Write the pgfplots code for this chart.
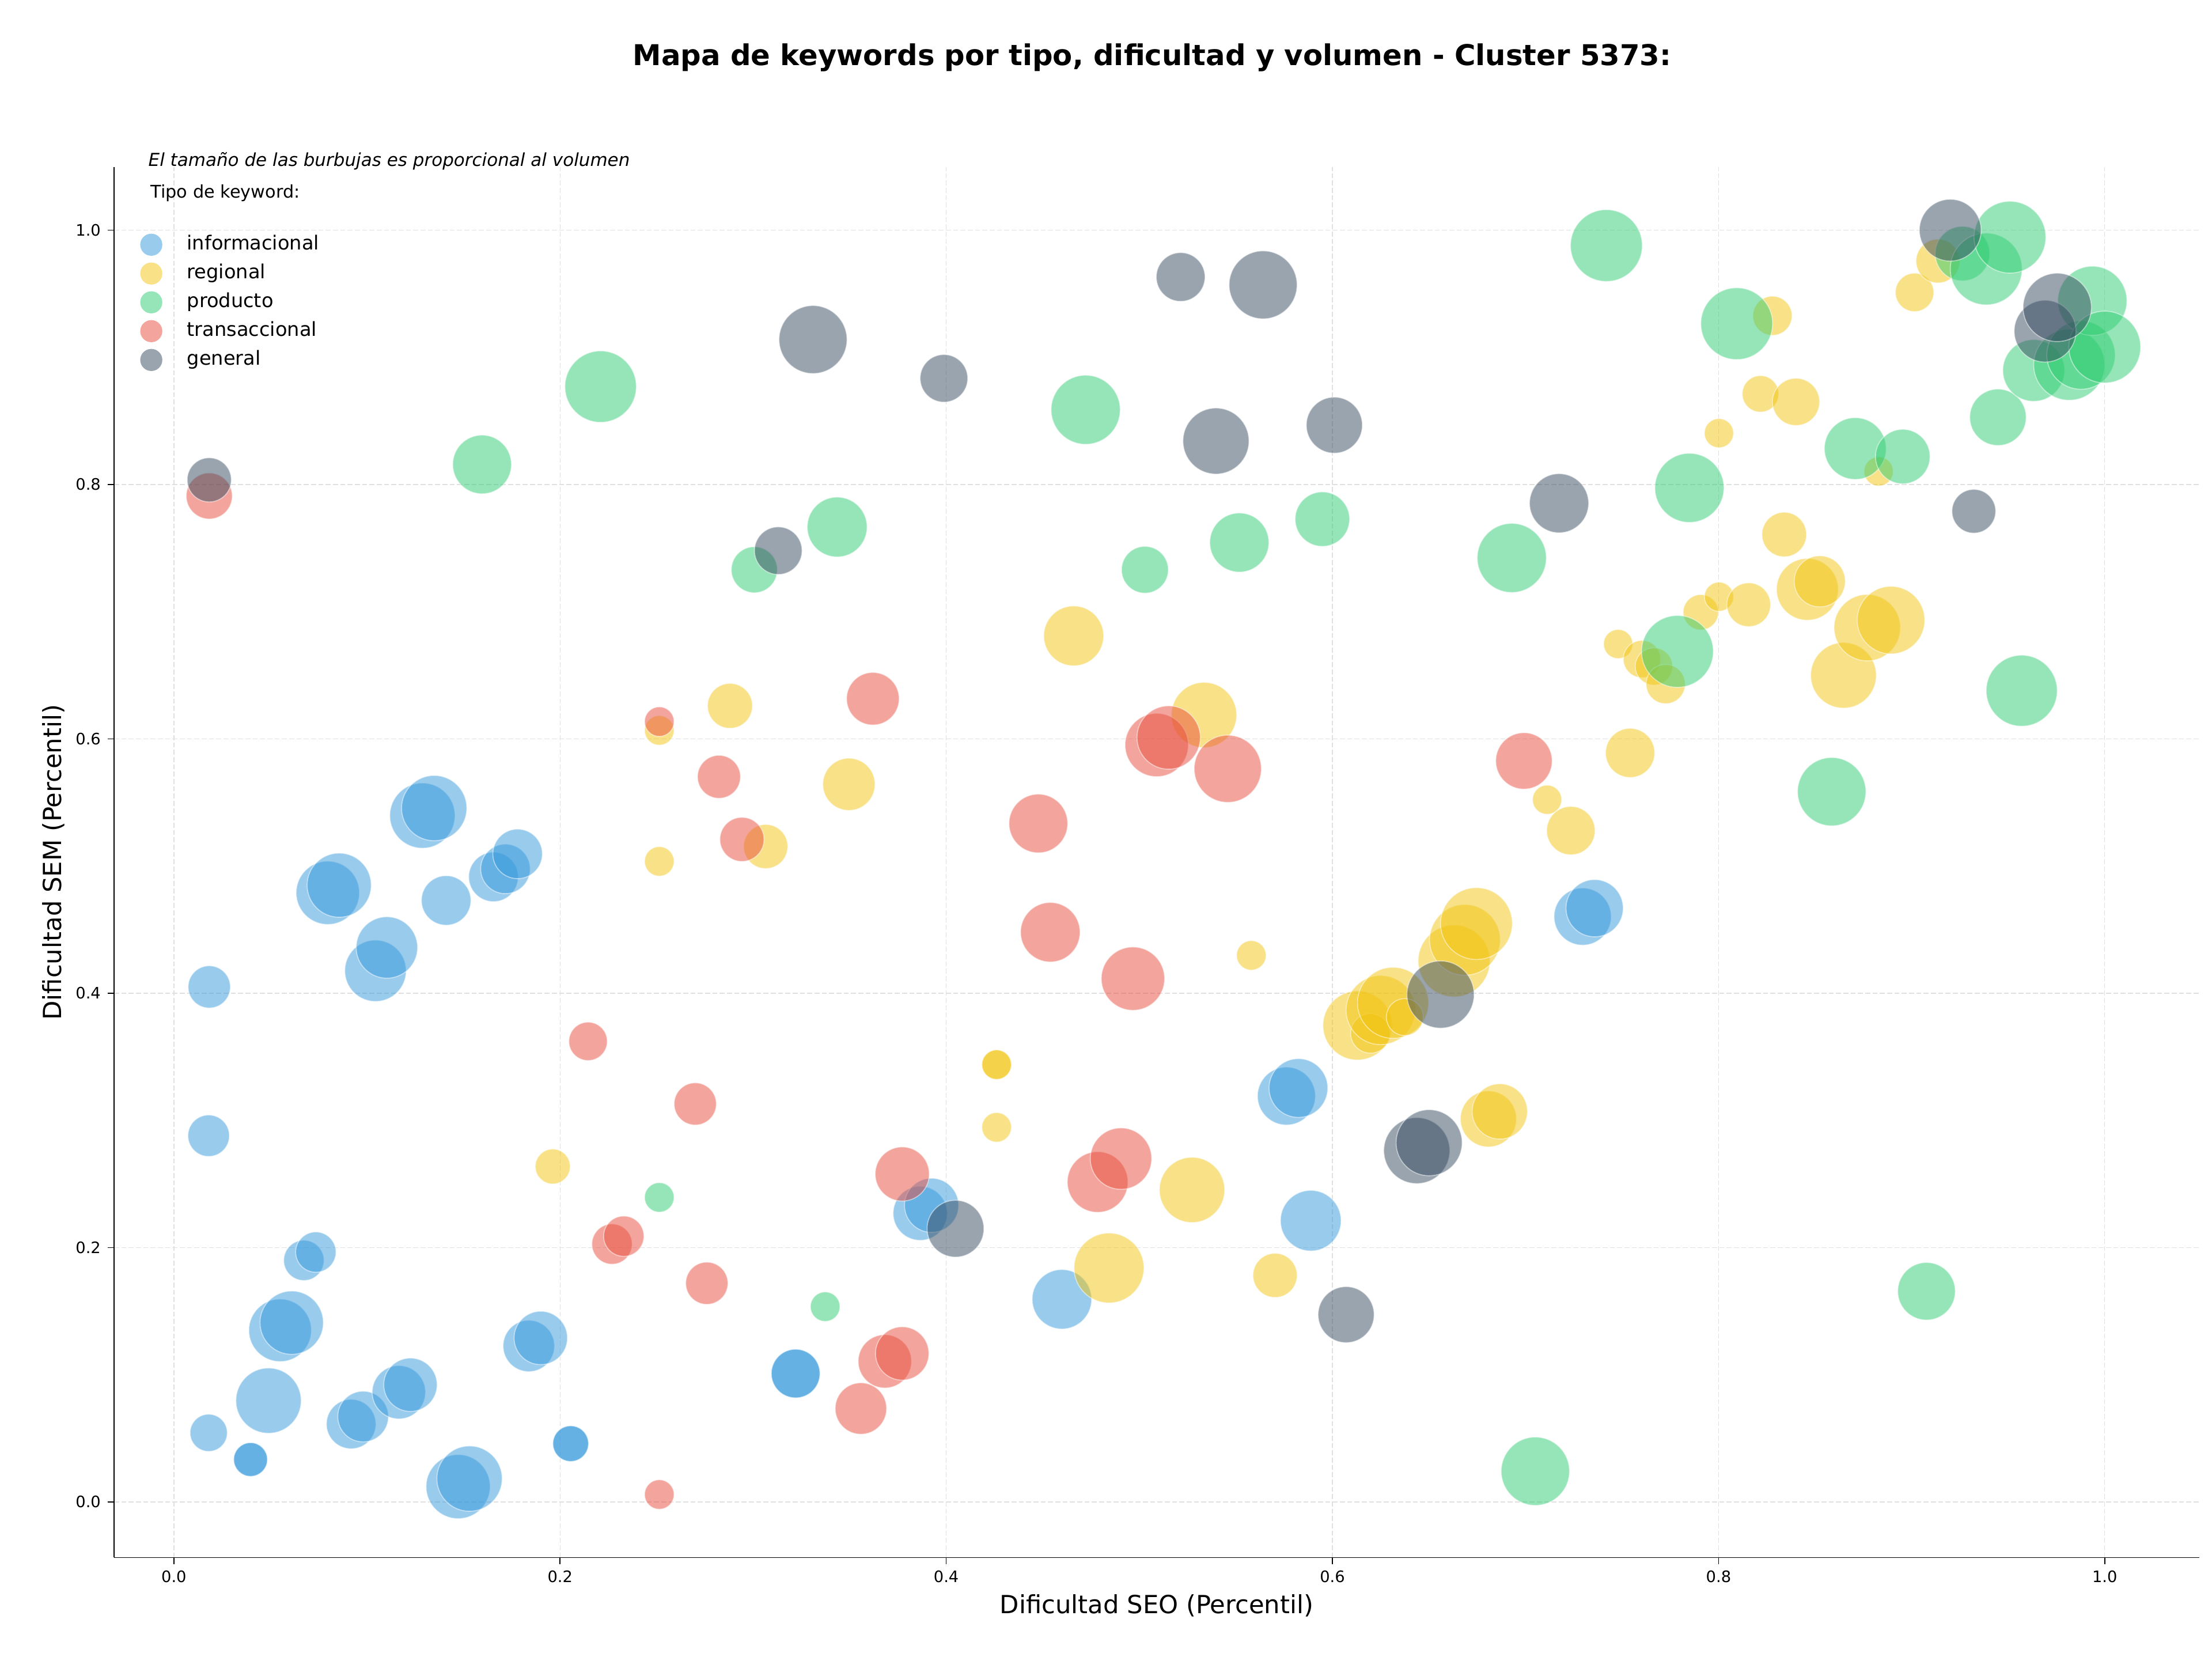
\documentclass[border=0pt]{standalone}
\usepackage{fontspec}
\setmainfont{DejaVu Sans}
\usepackage{pgfplots}
\usepackage{pgfplotstable}
\pgfplotsset{compat=1.18}
\definecolor{cinfo}{HTML}{3498DB}
\definecolor{creg}{HTML}{F1C40F}
\definecolor{cprod}{HTML}{2ECC71}
\definecolor{ctrans}{HTML}{E74C3C}
\definecolor{cgen}{HTML}{34495E}

\pgfplotstableread{
x y r
0.0183 0.405 11.0
0.018 0.288 10.8
0.018 0.0544 9.7
0.0397 0.0334 8.8
0.0397 0.0334 8.8
0.049 0.0797 17.0
0.055 0.135 16.3
0.061 0.141 16.5
0.0673 0.190 10.5
0.0735 0.1965 10.5
0.0797 0.479 16.5
0.0856 0.485 16.7
0.0918 0.0613 12.9
0.098 0.0672 13.2
0.1044 0.4177 16.0
0.1103 0.436 16.0
0.1165 0.0863 13.9
0.1225 0.0922 13.9
0.1287 0.5397 17.0
0.1348 0.5456 17.0
0.141 0.473 12.9
0.1472 0.0121 16.7
0.1531 0.0184 17.0
0.1655 0.4915 12.9
0.1717 0.4978 12.9
0.178 0.5096 12.9
0.1838 0.1227 13.4
0.19 0.129 13.9
0.2055 0.0459 9.3
0.2055 0.0459 9.3
0.322 0.101 12.7
0.322 0.101 12.7
0.3865 0.227 14.1
0.3924 0.2333 14.1
0.4599 0.1594 15.5
0.5762 0.3192 15.1
0.5824 0.3255 15.3
0.5888 0.2212 15.8
0.7296 0.4603 14.9
0.7358 0.4669 14.9
}\tinfo

\pgfplotstableread{
x y r
0.1962 0.2638 9.1
0.2514 0.6067 7.7
0.2514 0.5037 7.7
0.288 0.626 11.7
0.3065 0.5154 11.5
0.3496 0.5643 13.6
0.4261 0.3439 7.7
0.4261 0.3439 7.7
0.4261 0.2946 7.7
0.466 0.681 15.6
0.4843 0.184 18.2
0.5273 0.2454 17.0
0.5335 0.6188 17.0
0.558 0.4298 7.7
0.5703 0.1782 11.5
0.613 0.3747 18.0
0.6197 0.3685 10.3
0.625 0.3868 18.0
0.6314 0.3925 18.5
0.6375 0.3813 9.6
0.663 0.4254 18.7
0.6686 0.442 18.4
0.6746 0.4548 18.7
0.6808 0.3012 14.6
0.6867 0.3071 14.4
0.7112 0.5522 7.6
0.7235 0.5279 12.6
0.748 0.6746 7.6
0.7542 0.589 12.8
0.7603 0.6628 9.7
0.7665 0.657 9.7
0.7726 0.6431 10.2
0.7908 0.6996 9.2
0.8002 0.7118 7.6
0.8002 0.8404 7.6
0.8156 0.7055 11.4
0.8217 0.8713 9.5
0.8279 0.9327 10.2
0.834 0.7607 11.6
0.8401 0.865 12.3
0.846 0.7176 16.1
0.8524 0.7239 13.3
0.8647 0.65 17.1
0.877 0.6875 17.3
0.8829 0.8103 7.6
0.8893 0.6934 17.6
0.9015 0.9511 10.0
0.9136 0.9757 11.4
}\treg

\pgfplotstableread{
x y r
0.1596 0.8158 15.3
0.221 0.877 18.6
0.2514 0.2395 7.7
0.3006 0.733 12.0
0.3373 0.1536 7.7
0.3435 0.7666 15.6
0.4722 0.8588 18.0
0.5029 0.733 12.2
0.5518 0.7544 15.4
0.5948 0.7728 14.2
0.6929 0.7423 18.0
0.7051 0.0242 17.8
0.7419 0.9879 18.7
0.7787 0.6688 18.7
0.7849 0.7974 18.0
0.8094 0.9265 18.7
0.8586 0.5585 17.8
0.8708 0.8283 16.1
0.8954 0.822 14.2
0.9077 0.1657 15.0
0.9263 0.9816 14.2
0.9386 0.9695 18.7
0.9447 0.8529 14.7
0.9509 0.9945 18.7
0.957 0.6379 18.5
0.9632 0.8897 16.1
0.9816 0.8942 18.5
0.9877 0.9018 17.8
0.9936 0.9445 18.0
1.0 0.9081 18.7
}\tprod

\pgfplotstableread{
x y r
0.0183 0.791 12.0
0.2145 0.3622 10.0
0.2269 0.2028 10.5
0.233 0.209 10.5
0.2514 0.6136 7.7
0.2514 0.0059 7.7
0.27 0.313 11.0
0.276 0.172 11.0
0.2823 0.5702 11.2
0.2942 0.521 11.5
0.3558 0.0735 13.4
0.362 0.6316 13.7
0.3682 0.1106 13.9
0.3772 0.2579 14.1
0.3772 0.1168 13.9
0.4477 0.5335 15.3
0.4539 0.448 15.5
0.4784 0.2516 15.8
0.4905 0.27 16.0
0.4967 0.4115 16.5
0.509 0.5952 16.5
0.5152 0.6011 16.5
0.5458 0.5765 17.5
0.6992 0.5827 14.7
}\ttrans

\pgfplotstableread{
x y r
0.0183 0.8037 11.5
0.313 0.748 12.4
0.331 0.914 17.7
0.3988 0.8835 12.4
0.4048 0.2149 14.8
0.5214 0.9632 12.7
0.5397 0.8342 17.2
0.5641 0.957 17.7
0.601 0.8467 14.6
0.6071 0.1473 14.6
0.6437 0.2763 17.2
0.6501 0.2825 17.2
0.656 0.399 17.5
0.7174 0.7853 15.4
0.92 1.0 16.1
0.9322 0.779 11.4
0.9691 0.9206 16.1
0.9754 0.9393 17.8
}\tgen

\pgfplotsset{
  bubbles/.style={scatter, only marks, mark=*, forget plot,
    scatter/use mapped color={draw=white, fill=#1, fill opacity=0.5, draw opacity=0.5},
    mark options={line width=0.5pt},
    visualization depends on={\thisrow{r} \as \rad},
    scatter/@pre marker code/.append style={/tikz/mark size=\rad pt}},
  bubleg/.style={legend image code/.code={\path[draw=none,fill=none] (-5.75pt,-5pt) rectangle (18.6pt,5pt);
    \path[draw=none, fill=#1, fill opacity=0.5] (0pt,0pt) circle (5.75pt);}}
}

\begin{document}
\begin{tikzpicture}
\useasboundingbox (0,0) rectangle (1152pt,864.9pt);
\begin{axis}[
  at={(59.4pt,53.85pt)}, anchor=south west,
  scale only axis, width=1086pt, height=724.1pt,
  xmin=-0.031, xmax=1.049, ymin=-0.0437, ymax=1.0497,
  axis x line*=bottom, axis y line*=left,
  axis line style={line width=0.5pt, black},
  tick align=outside, major tick length=3.4pt,
  tick style={black, line width=0.5pt},
  xtick={0,0.2,0.4,0.6,0.8,1.0}, ytick={0,0.2,0.4,0.6,0.8,1.0},
  grid=major,
  major grid style={black!12, line width=0.4pt, dash pattern=on 2.6pt off 1.2pt},
  /pgf/number format/assume math mode=true,
  ticklabel style={font=\fontsize{8.2}{9.8}\selectfont},
  xticklabel style={/pgf/number format/.cd, fixed, fixed zerofill, precision=1},
  yticklabel style={/pgf/number format/.cd, fixed, fixed zerofill, precision=1},
  xlabel={Dificultad SEO (Percentil)},
  ylabel={Dificultad SEM (Percentil)},
  every axis x label/.style={at={(axis description cs:0.5,-0.0346)}, anchor=center, font=\fontsize{13}{15.6}\selectfont},
  every axis y label/.style={at={(axis description cs:-0.029,0.5)}, rotate=90, anchor=center, font=\fontsize{13}{15.6}\selectfont},
  legend cell align=left,
  legend style={at={(rel axis cs:0.01238,0.9523)}, anchor=north west, draw=none, fill=none,
    inner sep=0pt, row sep=3.5pt, column sep=0pt,
    nodes={inner sep=0pt, text height=7.6pt, text depth=2.2pt, font=\fontsize{10.1}{12}\selectfont}},
]
\addplot[bubbles=cinfo] table[x=x,y=y] {\tinfo};
\addplot[bubbles=creg] table[x=x,y=y] {\treg};
\addplot[bubbles=cprod] table[x=x,y=y] {\tprod};
\addplot[bubbles=ctrans] table[x=x,y=y] {\ttrans};
\addplot[bubbles=cgen] table[x=x,y=y] {\tgen};
\addlegendimage{bubleg=cinfo}\addlegendentry{informacional}
\addlegendimage{bubleg=creg}\addlegendentry{regional}
\addlegendimage{bubleg=cprod}\addlegendentry{producto}
\addlegendimage{bubleg=ctrans}\addlegendentry{transaccional}
\addlegendimage{bubleg=cgen}\addlegendentry{general}
\end{axis}
\node[font=\bfseries\fontsize{14.92}{17.9}\selectfont] at (600pt,834.9pt) {Mapa de keywords por tipo, dificultad y volumen - Cluster 5373:};
\node[anchor=west, inner sep=0pt, font=\itshape\fontsize{9.3}{11}\selectfont] at (77.1pt,780.9pt) {El tamaño de las burbujas es proporcional al volumen};
\node[anchor=west, inner sep=0pt, font=\fontsize{9.1}{11}\selectfont] at (78.3pt,764.4pt) {Tipo de keyword:};
\end{tikzpicture}
\end{document}
